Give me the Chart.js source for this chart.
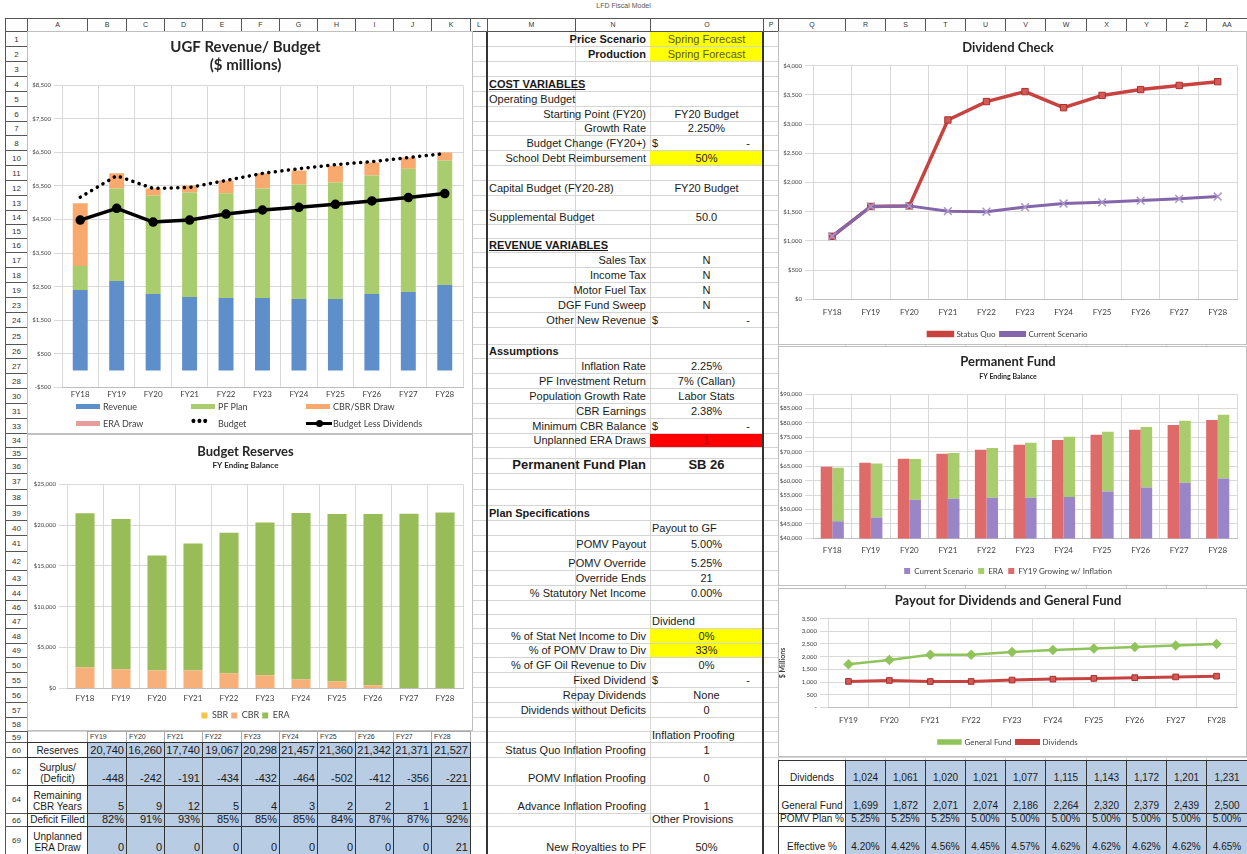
<!DOCTYPE html>
<html>
<head>
<meta charset="utf-8">
<title>LFD Fiscal Model</title>
<script src="https://cdn.jsdelivr.net/npm/chart.js@4.4.1/dist/chart.umd.min.js"></script>
<style>
  html, body { margin: 0; padding: 0; background: #fff; }
  #page { position: relative; width: 1247px; height: 854px; overflow: hidden; font-family: "Liberation Sans", Arial, sans-serif; color: #1a1a1a; }
  .abs { position: absolute; box-sizing: border-box; }
  .cell { position: absolute; box-sizing: border-box; display: flex; align-items: flex-end; white-space: nowrap; overflow: hidden; }
</style>
</head>
<body>
<div id="page"></div>
<script>
// ---- chart data ----
const years = ['FY18', 'FY19', 'FY20', 'FY21', 'FY22', 'FY23', 'FY24', 'FY25', 'FY26', 'FY27', 'FY28'];
const payoutYears = ['FY19', 'FY20', 'FY21', 'FY22', 'FY23', 'FY24', 'FY25', 'FY26', 'FY27', 'FY28'];

// UGF Revenue / Budget ($ millions)
const revenue = [2400, 2670, 2280, 2190, 2160, 2160, 2130, 2130, 2280, 2340, 2550];
const pfPlan = [710, 2750, 2935, 3110, 3115, 3260, 3410, 3470, 3530, 3670, 3700];
const cbrSbrDraw = [1870, 450, 205, 210, 385, 450, 415, 500, 380, 330, 240];
const eraDraw = [0, 0, 0, 0, 0, 0, 0, 0, 0, 0, 0];
const budget = [5160, 5800, 5420, 5450, 5660, 5870, 6010, 6130, 6220, 6340, 6460];
const budgetLessDiv = [4480, 4830, 4420, 4480, 4660, 4780, 4860, 4950, 5050, 5150, 5270];
const ugfTicks = [-500, 500, 1500, 2500, 3500, 4500, 5500, 6500, 7500, 8500];

// Budget Reserves
const sbrBal = [0, 0, 0, 0, 0, 0, 0, 0, 0, 0, 0];
const cbrBal = [2600, 2350, 2200, 2200, 1850, 1600, 1100, 850, 400, 60, 20];
const eraBal = [18850, 18390, 14060, 15540, 17220, 18700, 20360, 20510, 20940, 21310, 21510];

// Dividend Check
const statusQuo = [1080, 1590, 1600, 3070, 3385, 3555, 3280, 3490, 3590, 3660, 3725];
const currentScenario = [1080, 1590, 1600, 1510, 1500, 1580, 1640, 1660, 1690, 1720, 1760];

// Permanent Fund
const pfCurrent = [45900, 47200, 53400, 53700, 54100, 54100, 54300, 56200, 57600, 59300, 60700];
const pfEra = [18600, 18700, 14100, 15900, 17200, 19000, 20900, 20700, 21000, 21400, 22100];
const pfInflation = [64800, 66200, 67600, 69300, 70700, 72400, 74100, 75900, 77600, 79300, 81000];

// Payout for dividends and general fund
const dividends = [1024, 1061, 1020, 1021, 1077, 1115, 1143, 1172, 1201, 1231];
const generalFund = [1699, 1872, 2071, 2074, 2186, 2264, 2320, 2379, 2439, 2500];

// tables
const reserves = [20740, 16260, 17740, 19067, 20298, 21457, 21360, 21342, 21371, 21527];
const surplus = [-448, -242, -191, -434, -432, -464, -502, -412, -356, -221];
const cbrYears = [5, 9, 12, 5, 4, 3, 2, 2, 1, 1];
const deficitFilled = ['82%', '91%', '93%', '85%', '85%', '85%', '84%', '87%', '87%', '92%'];
const unplannedEra = [0, 0, 0, 0, 0, 0, 0, 0, 0, 21];
const pomvPlan = ['5.25%', '5.25%', '5.25%', '5.00%', '5.00%', '5.00%', '5.00%', '5.00%', '5.00%', '5.00%'];
const effectivePct = ['4.20%', '4.42%', '4.56%', '4.45%', '4.57%', '4.62%', '4.62%', '4.62%', '4.62%', '4.65%'];

// middle sheet
const midRows = [
  ['1', 'Price Scenario', 'Spring Forecast', { b: 1, fill: '#ffff00', vcol: '#5a5a2a' }],
  ['2', 'Production', 'Spring Forecast', { b: 1, fill: '#ffff00', vcol: '#5a5a2a' }],
  ['4', 'COST VARIABLES', '', { left: 1, b: 1, u: 1 }],
  ['5', 'Operating Budget', '', { left: 1 }],
  ['6', 'Starting Point (FY20)', 'FY20 Budget'],
  ['7', 'Growth Rate', '2.250%'],
  ['8', 'Budget Change (FY20+)', '-', { dollar: 1 }],
  ['10', 'School Debt Reimbursement', '50%', { fill: '#ffff00' }],
  ['12', 'Capital Budget (FY20-28)', 'FY20 Budget', { left: 1 }],
  ['14', 'Supplemental Budget', '50.0', { left: 1 }],
  ['16', 'REVENUE VARIABLES', '', { left: 1, b: 1, u: 1 }],
  ['17', 'Sales Tax', 'N'],
  ['18', 'Income Tax', 'N'],
  ['19', 'Motor Fuel Tax', 'N'],
  ['23', 'DGF Fund Sweep', 'N'],
  ['24', 'Other New Revenue', '-', { dollar: 1 }],
  ['26', 'Assumptions', '', { left: 1, b: 1 }],
  ['27', 'Inflation Rate', '2.25%'],
  ['28', 'PF Investment Return', '7% (Callan)'],
  ['30', 'Population Growth Rate', 'Labor Stats'],
  ['31', 'CBR Earnings', '2.38%'],
  ['33', 'Minimum CBR Balance', '-', { dollar: 1 }],
  ['34', 'Unplanned ERA Draws', '1', { fill: '#ff0000', vcol: '#a00000' }],
  ['36', 'Permanent Fund Plan', 'SB 26', { b: 1, big: 1, vb: 1 }],
  ['39', 'Plan Specifications', '', { left: 1, b: 1 }],
  ['40', '', 'Payout to GF', { vleft: 1 }],
  ['41', 'POMV Payout', '5.00%'],
  ['42', 'POMV Override', '5.25%'],
  ['43', 'Override Ends', '21'],
  ['44', '% Statutory Net Income', '0.00%'],
  ['47', '', 'Dividend', { vleft: 1 }],
  ['48', '% of Stat Net Income to Div', '0%', { fill: '#ffff00' }],
  ['49', '% of POMV Draw to Div', '33%', { fill: '#ffff00' }],
  ['50', '% of GF Oil Revenue to Div', '0%'],
  ['55', 'Fixed Dividend', '-', { dollar: 1 }],
  ['56', 'Repay Dividends', 'None'],
  ['57', 'Dividends without Deficits', '0'],
  ['59', '', 'Inflation Proofing', { vleft: 1 }],
  ['60', 'Status Quo Inflation Proofing', '1'],
  ['62', 'POMV Inflation Proofing', '0'],
  ['64', 'Advance Inflation Proofing', '1'],
  ['66', '', 'Other Provisions', { vleft: 1 }],
  ['69', 'New Royalties to PF', '50%']
];

// ---- sheet grid ----
const colIds = ['A','B','C','D','E','F','G','H','I','J','K','L','M','N','O','P','Q','R','S','T','U','V','W','X','Y','Z','AA'];
const colEdges = [27,87,126,164,202,241,279,317,355,393,431,470,487,575,650,763,778,845,885,925,965,1005,1045,1086,1126,1166,1206,1247];
const rowIds = ['1','2','3','4','5','6','7','8','10','11','12','13','14','15','16','17','18','19','23','24','25','26','27','28','30','31','33','34','35','36','37','38','39','40','41','42','43','44','46','47','48','49','50','55','56','57','58','59','60','62','64','66','69'];
const rowEdges = [31,46,61,76,91,106,121,135,150,165,180,195,210,224,238,252,267,282,297,312,327,344,358,373,388,403,418,433,447,458,473,489,505,520,535,551,570,585,600,614,628,643,657,672,687,702,717,731,742,757,785,813,826,854];

const page = document.getElementById('page');
function box(x, y, w, h, css, text, cls) {
  const d = document.createElement('div');
  d.className = cls || 'abs';
  d.style.left = x + 'px'; d.style.top = y + 'px';
  d.style.width = w + 'px'; d.style.height = h + 'px';
  if (css) d.style.cssText += css;
  if (text !== undefined) d.textContent = text;
  page.appendChild(d);
  return d;
}
const rowTop = id => rowEdges[rowIds.indexOf(id)];
const rowH = id => rowEdges[rowIds.indexOf(id) + 1] - rowTop(id);
const colX = id => colEdges[colIds.indexOf(id)];

box(0, 2, 1247, 12, 'text-align:center;font-size:7px;color:#555;', 'LFD Fiscal Model');

// background gridlines
rowEdges.forEach(e => box(5, e, 1242, 1, 'background:#d4d4d4'));
colEdges.forEach(e => box(e, 18, 1, 836, 'background:#d4d4d4'));

// column headers
colIds.forEach((c, i) => box(colEdges[i], 18, colEdges[i + 1] - colEdges[i] + 1, 14,
  'border:1px solid #555;background:#fff;font-size:7px;color:#333;text-align:center;line-height:12px', c));
box(5, 18, 23, 14, 'border:1px solid #555;background:#fff');
// row headers
rowIds.forEach((r, i) => box(5, rowEdges[i], 23, rowEdges[i + 1] - rowEdges[i] + 1,
  'border:1px solid #555;background:#fff;font-size:8px;color:#333;display:flex;align-items:center;justify-content:center', r));

// ---- middle block ----
midRows.forEach(([r, label, value, o]) => {
  o = o || {};
  const y = rowTop(r), h = rowH(r);
  if (o.fill) box(650, y + 1, 113, h - 1, 'background:' + o.fill);
  const fs = o.big ? 13 : 11;
  const weight = o.b ? 'bold' : 'normal';
  if (label) {
    box(o.left ? 489 : 487, y, o.left ? 160 : 161, h,
      `font-size:${fs}px;font-weight:${weight};line-height:${fs + 1}px;padding:0 2px 1px 0;` +
      (o.u ? 'text-decoration:underline;' : '') + (o.left ? '' : 'justify-content:flex-end;'), label, 'cell');
  }
  if (value && o.dollar) {
    box(652, y, 20, h, 'font-size:11px;line-height:12px;padding-bottom:1px', '$', 'cell');
    box(700, y, 50, h, 'font-size:11px;line-height:12px;padding-bottom:1px;justify-content:flex-end', value, 'cell');
  } else if (value) {
    box(o.vleft ? 652 : 650, y, o.vleft ? 111 : 113, h,
      `font-size:${fs}px;font-weight:${o.vb ? 'bold' : 'normal'};line-height:${fs + 1}px;padding-bottom:1px;` +
      (o.vcol ? 'color:' + o.vcol + ';' : '') + (o.vleft ? '' : 'justify-content:center;'), value, 'cell');
  }
});
box(486, 32, 2, 822, 'background:#333');
box(762, 32, 2, 822, 'background:#333');

// ---- left table ----
payoutYears.forEach((y, j) => box(colEdges[j + 1], rowTop('59'), colEdges[j + 2] - colEdges[j + 1] + 1, rowH('59') + 1,
  'border:1px solid #aaa;background:#fff;font-size:7px;padding:1px 0 0 2px;color:#333', y));
const fmt = v => v.toLocaleString('en-US');
const leftTable = [
  ['60', 'Reserves', reserves.map(fmt)],
  ['62', 'Surplus/\n(Deficit)', surplus.map(String)],
  ['64', 'Remaining\nCBR Years', cbrYears.map(String)],
  ['66', 'Deficit Filled', deficitFilled],
  ['69', 'Unplanned\nERA Draw', unplannedEra.map(String)]
];
leftTable.forEach(([r, label, vals]) => {
  const y = rowTop(r), h = rowH(r) + 1;
  box(colX('A'), y, colX('B') - colX('A') + 1, h,
    'border:1px solid #333;background:#fff;font-size:10px;line-height:11px;white-space:pre;justify-content:center;text-align:center;padding-bottom:1px', label, 'cell');
  vals.forEach((v, j) => box(colEdges[j + 1], y, colEdges[j + 2] - colEdges[j + 1] + 1, h,
    'border:1px solid #333;background:#b8cce4;font-size:11px;line-height:12px;justify-content:flex-end;padding:0 2px 1px 0', v, 'cell'));
});

// ---- right table ----
const rightTable = [
  ['62', 'Dividends', dividends.map(fmt)],
  ['64', 'General Fund', generalFund.map(fmt)],
  ['66', 'POMV Plan %', pomvPlan],
  ['69', 'Effective %', effectivePct]
];
rightTable.forEach(([r, label, vals]) => {
  const y = rowTop(r) + (r === '62' ? 3 : 0), h = rowEdges[rowIds.indexOf(r) + 1] - y + 1;
  box(colX('Q'), y, colX('R') - colX('Q') + 1, h,
    'border:1px solid #333;background:#fff;font-size:10px;line-height:11px;justify-content:center;padding-bottom:2px', label, 'cell');
  vals.forEach((v, j) => box(colEdges[j + 17], y, colEdges[j + 18] - colEdges[j + 17] + 1, h,
    'border:1px solid #333;background:#b8cce4;font-size:10px;line-height:12px;justify-content:center;padding-bottom:1px', v, 'cell'));
});

// ---- charts ----
Chart.defaults.font.family = 'Lato, "Open Sans", sans-serif';
Chart.defaults.color = '#404040';
const base = { responsive: true, maintainAspectRatio: false, animation: false, devicePixelRatio: 1 };
const money = v => (v < 0 ? '-$' : '$') + Math.abs(v).toLocaleString('en-US');
const gridC = '#d9d9d9';

function chartBox(x, y, w, h) {
  return box(x, y, w, h, 'background:#fff;border:1px solid #bfbfbf');
}
function makeCanvas(x, y, w, h) {
  const d = box(x, y, w, h);
  const c = document.createElement('canvas');
  d.appendChild(c);
  return c;
}

// UGF Revenue / Budget
chartBox(27, 31, 446, 403);
const ugf = new Chart(makeCanvas(28, 32, 444, 369), {
  data: {
    labels: years,
    datasets: [
      { type: 'line', label: 'Budget', data: budget, stack: 'l1', order: 0, borderColor: '#000', borderWidth: 3.5,
        borderDash: [0.1, 6.5], borderCapStyle: 'round', pointRadius: 0 },
      { type: 'line', label: 'Budget Less Dividends', data: budgetLessDiv, stack: 'l2', order: 1, borderColor: '#000',
        borderWidth: 3.5, pointRadius: 3, pointBackgroundColor: '#000', pointBorderColor: '#000' },
      { type: 'bar', label: 'Revenue', data: revenue, stack: 's', order: 2, backgroundColor: '#5e8fcb' },
      { type: 'bar', label: 'PF Plan', data: pfPlan, stack: 's', order: 2, backgroundColor: '#a9cc6e' },
      { type: 'bar', label: 'CBR/SBR Draw', data: cbrSbrDraw, stack: 's', order: 2, backgroundColor: '#f8aa6e' },
      { type: 'bar', label: 'ERA Draw', data: eraDraw, stack: 's', order: 2, backgroundColor: '#e79b9a' }
    ]
  },
  options: {
    ...base,
    layout: { padding: { left: 0, right: 9, top: 0, bottom: 0 } },
    datasets: { bar: { categoryPercentage: 1, barPercentage: 0.41 } },
    plugins: {
      legend: { display: false }, tooltip: { enabled: false },
      title: { display: true, text: ['UGF Revenue/ Budget', '($ millions)'], color: '#262626',
        font: { size: 15, weight: 'bold' }, padding: { top: 6, bottom: 11 } }
    },
    scales: {
      x: { stacked: true, grid: { color: gridC, drawTicks: false }, border: { color: '#bfbfbf' },
        ticks: { font: { size: 8 }, padding: 2 } },
      y: { stacked: true, min: -500, max: 8500,
        afterBuildTicks: s => { s.ticks = ugfTicks.map(v => ({ value: v })); },
        afterFit: s => { s.width = 34; },
        grid: { color: gridC }, border: { display: false },
        ticks: { font: { size: 6 }, callback: money } }
    }
  }
});

// HTML legend for the UGF chart, three per row like the sheet
const ugfLegend = [
  ['Revenue', 76, 400, 'bar'], ['PF Plan', 191, 400, 'bar'], ['CBR/SBR Draw', 306, 400, 'bar'],
  ['ERA Draw', 76, 417, 'bar'], ['Budget', 191, 417, 'dots'], ['Budget Less Dividends', 306, 417, 'line']
];
ugfLegend.forEach(([name, x, y, kind]) => {
  const ds = ugf.data.datasets.find(d => d.label === name);
  const col = ds.backgroundColor || ds.borderColor;
  if (kind === 'bar') box(x, y + 4, 24, 5, 'background:' + col);
  if (kind === 'dots') box(x, y - 3, 24, 14, 'font-size:14px;line-height:14px;letter-spacing:1px;color:#000;font-weight:bold', '\u2022\u2022\u2022');
  if (kind === 'line') { box(x, y + 5, 26, 3, 'background:#000'); box(x + 10, y + 3, 7, 7, 'background:#000;border-radius:50%'); }
  box(x + 27, y, 130, 13, 'font-family:Lato,sans-serif;font-size:9px;line-height:13px;color:#404040', name);
});

// Budget Reserves
chartBox(27, 434, 446, 297);
new Chart(makeCanvas(28, 435, 444, 295), {
  type: 'bar',
  data: {
    labels: years,
    datasets: [
      { label: 'SBR', data: sbrBal, backgroundColor: '#f5c54a' },
      { label: 'CBR', data: cbrBal, backgroundColor: '#f7b07a' },
      { label: 'ERA', data: eraBal, backgroundColor: '#98bd58' }
    ]
  },
  options: {
    ...base,
    layout: { padding: { left: 0, right: 9, top: 0, bottom: 0 } },
    datasets: { bar: { categoryPercentage: 1, barPercentage: 0.53 } },
    plugins: {
      tooltip: { enabled: false },
      title: { display: true, text: 'Budget Reserves', color: '#262626', font: { size: 13, weight: 'bold' }, padding: { top: 9, bottom: 1 } },
      subtitle: { display: true, text: 'FY Ending Balance', color: '#262626', font: { size: 8, weight: 'bold' }, padding: { top: 0, bottom: 14 } },
      legend: { position: 'bottom', labels: { boxWidth: 6, boxHeight: 6, font: { size: 9 }, padding: 3 } }
    },
    scales: {
      x: { stacked: true, grid: { color: gridC, drawTicks: false }, border: { color: '#bfbfbf' }, ticks: { font: { size: 8 }, padding: 5 } },
      y: { stacked: true, min: 0, max: 25000, ticks: { stepSize: 5000, font: { size: 6 }, callback: money },
        afterFit: s => { s.width = 39; }, grid: { color: gridC }, border: { display: false } }
    }
  }
});

// Dividend Check
chartBox(778, 31, 469, 314);
new Chart(makeCanvas(779, 32, 467, 316), {
  type: 'line',
  data: {
    labels: years,
    datasets: [
      { label: 'Status Quo', data: statusQuo, order: 1, borderColor: '#c8423f', borderWidth: 3.5,
        pointStyle: 'rect', pointRadius: 4.5, pointBackgroundColor: '#d45a57', pointBorderColor: '#a8302d', pointBorderWidth: 1,
        backgroundColor: '#c8423f' },
      { label: 'Current Scenario', data: currentScenario, order: 0, borderColor: '#8466ab', borderWidth: 3,
        pointStyle: 'crossRot', pointRadius: 5.5, pointBorderColor: '#a995c9', pointBorderWidth: 1.5,
        backgroundColor: '#8466ab' }
    ]
  },
  options: {
    ...base,
    layout: { padding: { left: 0, right: 9, top: 0, bottom: 0 } },
    plugins: {
      tooltip: { enabled: false },
      title: { display: true, text: 'Dividend Check', color: '#262626', font: { size: 13, weight: 'bold' }, padding: { top: 8, bottom: 10 } },
      legend: { position: 'bottom', labels: { boxWidth: 24, boxHeight: 3, font: { size: 8 }, padding: 5,
        sort: (a, b) => a.datasetIndex - b.datasetIndex } }
    },
    scales: {
      x: { offset: true, grid: { color: gridC, offset: true, drawTicks: false }, border: { color: '#bfbfbf' }, ticks: { font: { size: 8 }, padding: 8 } },
      y: { min: 0, max: 4000, ticks: { stepSize: 500, font: { size: 6 }, callback: money },
        afterFit: s => { s.width = 34; }, grid: { color: gridC }, border: { display: false } }
    }
  }
});

// Permanent Fund
chartBox(778, 346, 469, 240);
new Chart(makeCanvas(779, 347, 467, 238), {
  type: 'bar',
  data: {
    labels: years,
    datasets: [
      { label: 'FY19 Growing w/ Inflation', data: pfInflation, stack: 'a', backgroundColor: '#de6b69' },
      { label: 'Current Scenario', data: pfCurrent, stack: 'b', backgroundColor: '#9a86c6' },
      { label: 'ERA', data: pfEra, stack: 'b', backgroundColor: '#a9cd6c' }
    ]
  },
  options: {
    ...base,
    layout: { padding: { left: 0, right: 9, top: 0, bottom: 0 } },
    datasets: { bar: { categoryPercentage: 0.6, barPercentage: 1 } },
    plugins: {
      tooltip: { enabled: false },
      title: { display: true, text: 'Permanent Fund', color: '#262626', font: { size: 13, weight: 'bold' }, padding: { top: 7, bottom: 3 } },
      subtitle: { display: true, text: 'FY Ending Balance', color: '#262626', font: { size: 7, weight: 'bold' }, padding: { top: 0, bottom: 13 } },
      legend: { position: 'bottom', labels: { boxWidth: 6, boxHeight: 6, font: { size: 8 }, padding: 5,
        sort: (a, b) => [2, 0, 1][a.datasetIndex] - [2, 0, 1][b.datasetIndex] } }
    },
    scales: {
      x: { stacked: true, grid: { color: gridC, drawTicks: false }, border: { color: '#bfbfbf' }, ticks: { font: { size: 8 }, padding: 7 } },
      y: { stacked: true, min: 40000, max: 90000, ticks: { stepSize: 5000, font: { size: 6 }, callback: money },
        afterFit: s => { s.width = 34; }, grid: { color: gridC }, border: { display: false } }
    }
  }
});

// Payout for Dividends and General Fund
chartBox(778, 588, 469, 169);
new Chart(makeCanvas(779, 589, 467, 167), {
  type: 'line',
  data: {
    labels: payoutYears,
    datasets: [
      { label: 'General Fund', data: generalFund, borderColor: '#8fc45a', backgroundColor: '#8fc45a', borderWidth: 2.5,
        pointStyle: 'rectRot', pointRadius: 3.5, pointBackgroundColor: '#8fc45a', pointBorderColor: '#8fc45a' },
      { label: 'Dividends', data: dividends, borderColor: '#c8423f', backgroundColor: '#c8423f', borderWidth: 3,
        pointStyle: 'rect', pointRadius: 4, pointBackgroundColor: '#d45a57', pointBorderColor: '#a8302d', pointBorderWidth: 1 }
    ]
  },
  options: {
    ...base,
    layout: { padding: { left: 0, right: 9, top: 0, bottom: 0 } },
    plugins: {
      tooltip: { enabled: false },
      title: { display: true, text: 'Payout for Dividends and General Fund', color: '#262626', font: { size: 13, weight: 'bold' }, padding: { top: 4, bottom: 10 } },
      legend: { position: 'bottom', labels: { boxWidth: 22, boxHeight: 3, font: { size: 8 }, padding: 5 } }
    },
    scales: {
      x: { offset: true, grid: { color: gridC, offset: true, drawTicks: false }, border: { color: '#bfbfbf' }, ticks: { font: { size: 8 }, padding: 8 } },
      y: { min: 0, max: 3500, ticks: { stepSize: 500, font: { size: 6 }, callback: v => v === 0 ? '-' : v.toLocaleString('en-US') },
        title: { display: true, text: '$ Millions', font: { size: 7, weight: 'bold' }, padding: { top: 0, bottom: 6 } },
        afterFit: s => { s.width = 49; }, grid: { color: gridC }, border: { display: false } }
    }
  }
});
</script>
</body>
</html>
